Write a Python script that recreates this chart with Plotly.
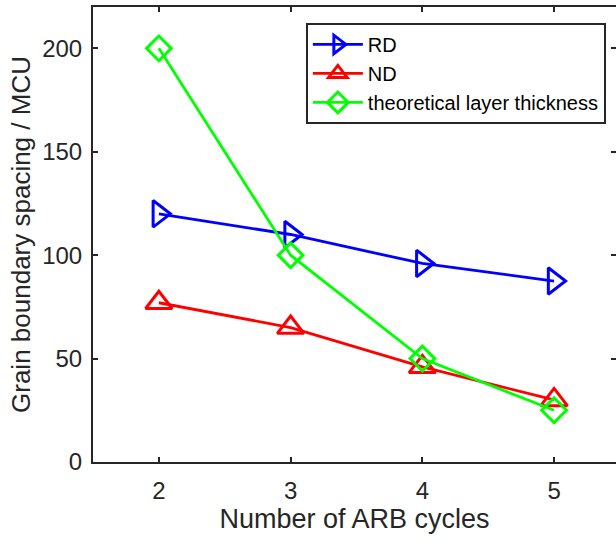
import plotly.graph_objects as go

cycles = [2, 3, 4, 5]
rd = [120, 110, 96, 87.5]
nd = [77, 65, 46, 30]
theory = [200, 100, 50, 25]
x_ticks = [2, 3, 4, 5]
y_ticks = [0, 50, 100, 150, 200]

axis_col = "#262626"
font_fam = "Liberation Sans, Arial, sans-serif"

fig = go.Figure()
fig.add_trace(go.Scatter(x=cycles, y=rd, name="RD", mode="lines+markers",
                         line=dict(color="#0000FF", width=2.8),
                         marker=dict(symbol="triangle-right-open", size=23,
                                     color="#0000FF", line=dict(width=3, color="#0000FF")),
                         legendgroup="a"))
fig.add_trace(go.Scatter(x=cycles, y=nd, name="ND", mode="lines+markers",
                         line=dict(color="#FF0000", width=2.8),
                         marker=dict(symbol="triangle-up-open", size=23,
                                     color="#FF0000", line=dict(width=3, color="#FF0000")),
                         legendgroup="b"))
fig.add_trace(go.Scatter(x=cycles, y=theory, name="theoretical layer thickness",
                         mode="lines+markers",
                         line=dict(color="#00FF00", width=2.8),
                         marker=dict(symbol="diamond-open", size=19,
                                     color="#00FF00", line=dict(width=3, color="#00FF00")),
                         legendgroup="c"))
fig.add_trace(go.Scatter(x=[None], y=[None], yaxis="y2", showlegend=False,
                         hoverinfo="skip"))

fig.update_layout(
    width=616, height=543,
    margin=dict(l=93, r=0, t=7, b=81),
    paper_bgcolor="white", plot_bgcolor="white",
    font=dict(family=font_fam, color=axis_col),
    xaxis=dict(range=[1.5, 5.47], tickvals=x_ticks, ticks="inside", ticklen=5,
               tickwidth=1.5, tickcolor=axis_col, showline=True, linecolor=axis_col,
               linewidth=2, mirror="ticks", showgrid=False, zeroline=False,
               tickfont=dict(size=24, color=axis_col), ticklabelstandoff=6,
               title=dict(text="Number of ARB cycles", font=dict(size=27, color=axis_col),
                          standoff=6)),
    yaxis=dict(range=[0, 220], tickvals=y_ticks, ticks="inside", ticklen=5,
               tickwidth=1.5, tickcolor=axis_col, showline=True, linecolor=axis_col,
               linewidth=2, showgrid=False, zeroline=False,
               tickfont=dict(size=24, color=axis_col), ticklabelstandoff=4,
               title=dict(text="Grain boundary spacing / MCU",
                          font=dict(size=26, color=axis_col), standoff=4)),
    yaxis2=dict(range=[0, 220], tickvals=y_ticks, overlaying="y", side="right",
                ticks="inside", ticklen=5, tickwidth=1.5, tickcolor=axis_col,
                showticklabels=False, showline=False, showgrid=False, zeroline=False),
    legend=dict(x=0.407, y=0.965, xanchor="left", yanchor="top",
                bgcolor="white", bordercolor=axis_col, borderwidth=2,
                font=dict(size=20, color="#000000"),
                traceorder="grouped", tracegroupgap=0,
                itemwidth=50),
    showlegend=True,
)

fig.write_html("out.html")
